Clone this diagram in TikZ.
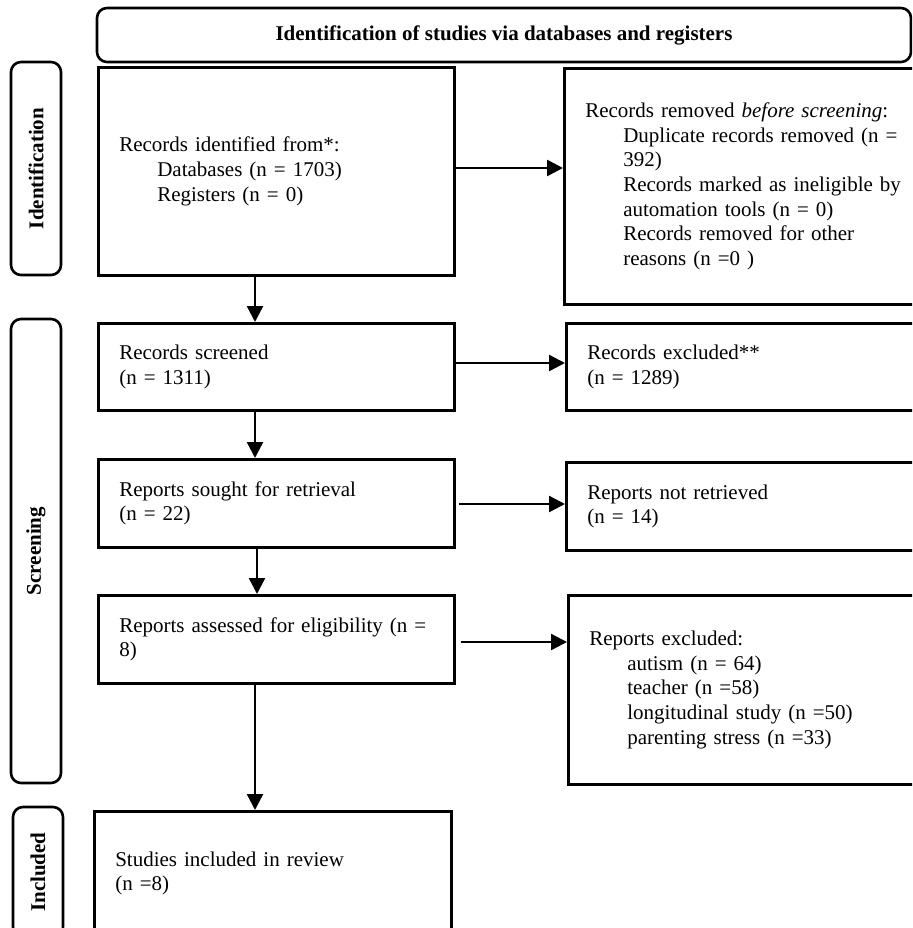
\documentclass[tikz,border=0pt]{standalone}
\usepackage{fontspec}
\setmainfont{Liberation Serif}
\usetikzlibrary{arrows.meta}
\newcommand{\ind}{\hspace*{38pt}}
\begin{document}
\begin{tikzpicture}[x=1pt,y=-1pt,
  box/.style={draw,line width=2.6pt,rectangle,inner xsep=21pt,inner ysep=0pt,align=left,anchor=north west,font=\fontsize{21}{24.7}\selectfont},
  side/.style={draw,line width=2.6pt,rounded corners=10pt,inner sep=0pt,font=\fontsize{21}{24.7}\selectfont\bfseries},
  arr/.style={line width=2.4pt,-{Triangle[length=16pt,width=16pt]}}]
\useasboundingbox (0,0) rectangle (912,928);
\clip (0,0) rectangle (912,928);

% header and side labels
\node[side,minimum width=814pt,minimum height=54pt] (hdr) at (504,35) {Identification of studies via databases and registers};
\node[side,rotate=90,minimum width=213pt,minimum height=50pt] (lid) at (36,168.5) {Identification};
\node[side,rotate=90,minimum width=464pt,minimum height=50pt] (lscr) at (36,551) {Screening};
\node[side,rotate=90,minimum width=130pt,minimum height=50pt] (linc) at (38,872) {Included};

% left column
\node[box,text width=314pt,minimum height=208pt] (b1) at (97,66) {Records identified from*:\\\ind Databases (n = 1703)\\\ind Registers (n = 0)};
\node[box,text width=314pt,minimum height=87pt] (screened) at (97,322) {Records screened\\(n = 1311)};
\node[box,text width=314pt,minimum height=88pt] (sought) at (97,458) {Reports sought for retrieval\\(n = 22)};
\node[box,text width=314pt,minimum height=88pt] (assessed) at (97,594) {Reports assessed for eligibility (n =\\8)};
\node[box,text width=315pt,minimum height=124pt] (included) at (93,810) {Studies included in review\\(n =8)};

% right column
\node[box,text width=330pt,minimum height=236pt] (removed) at (563,67) {Records removed \textit{before screening}:\\\ind Duplicate records removed (n =\\\ind 392)\\\ind Records marked as ineligible by\\\ind automation tools (n = 0)\\\ind Records removed for other\\\ind reasons (n =0 )};
\node[box,text width=330pt,minimum height=87pt] (excluded) at (565,322) {Records excluded**\\(n = 1289)};
\node[box,text width=330pt,minimum height=88pt] (notret) at (565,461) {Reports not retrieved\\(n = 14)};
\node[box,text width=330pt,minimum height=189pt] (repexcl) at (567,594) {Reports excluded:\\\ind autism (n = 64)\\\ind teacher (n =58)\\\ind longitudinal study (n =50)\\\ind parenting stress (n =33)};

% connectors
\coordinate (ax) at (255,0);
\coordinate (ax2) at (257,0);
\coordinate (r1) at (0,168);
\coordinate (r2) at (0,363);
\coordinate (r3) at (0,504);
\coordinate (r4) at (0,642);
\draw[arr] (b1.south -| ax) -- (screened.north -| ax);
\draw[arr] (screened.south -| ax) -- (sought.north -| ax);
\draw[arr] (sought.south -| ax2) -- (assessed.north -| ax2);
\draw[arr] (assessed.south -| ax) -- (included.north -| ax);

\draw[arr] (b1.east |- r1) -- (removed.west |- r1);
\draw[arr] (screened.east |- r2) -- (excluded.west |- r2);
\draw[arr,shorten <=3pt] (sought.east |- r3) -- (notret.west |- r3);
\draw[arr,shorten <=5pt] (assessed.east |- r4) -- (repexcl.west |- r4);
\end{tikzpicture}
\end{document}
